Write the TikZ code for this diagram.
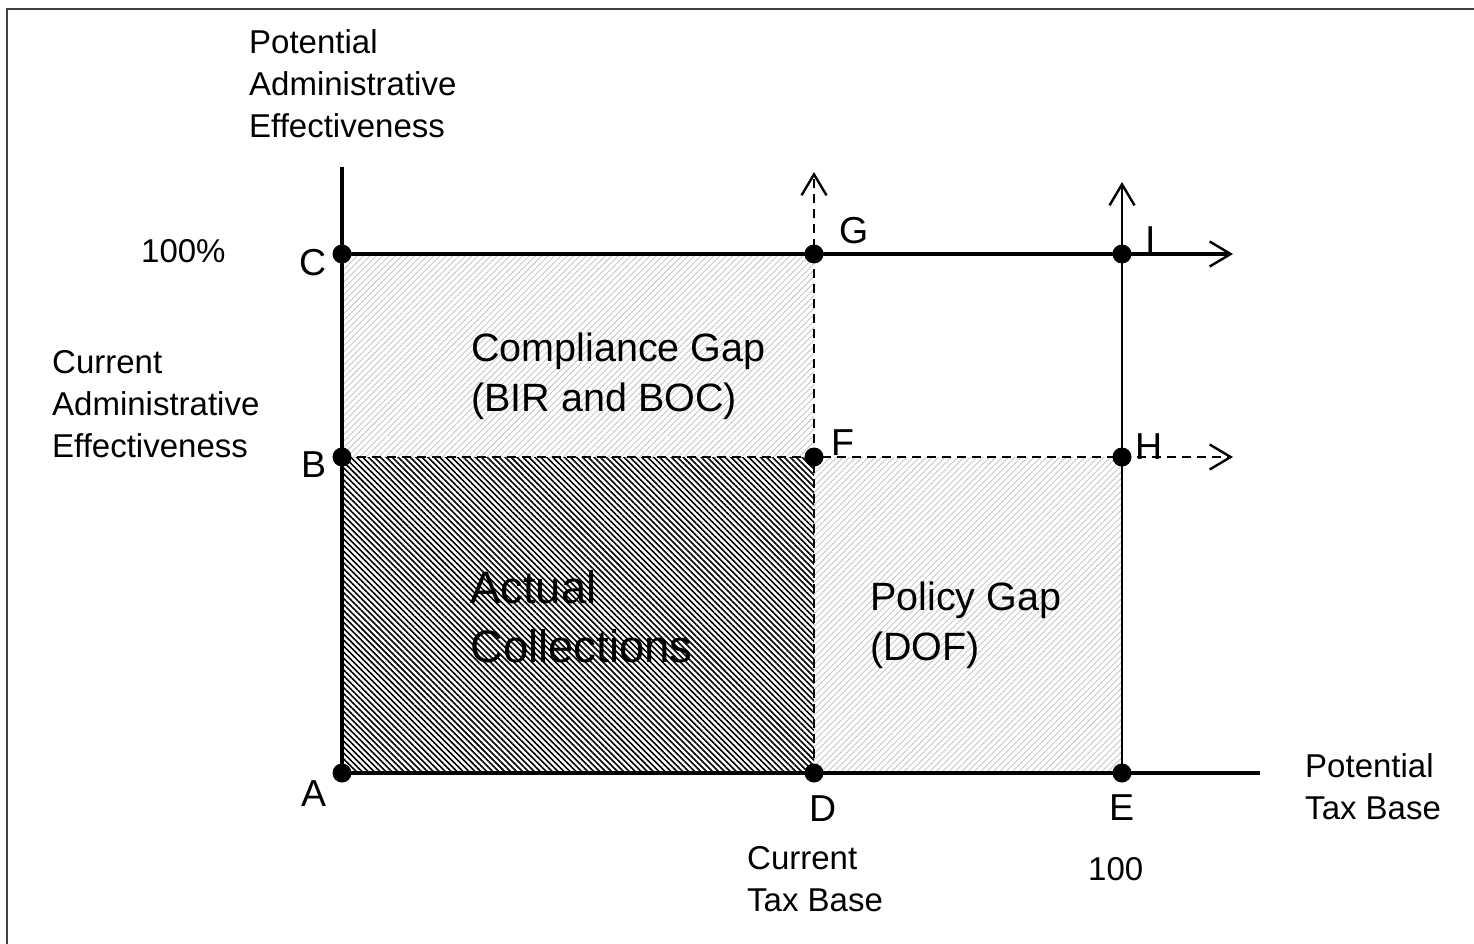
\documentclass[tikz,border=0pt]{standalone}
\usepackage{fontspec}
\setmainfont{Liberation Sans}
\usepackage{tikz}
\usetikzlibrary{positioning, calc, arrows.meta, patterns.meta}

\tikzset{
  axisline/.style = {line width=4.5pt},
  gridline/.style = {line width=3.5pt},
  thinline/.style = {line width=2.6pt},
  dashline/.style = {line width=2.4pt, dash pattern=on 9pt off 6pt},
  openhead/.style = {-{Straight Barb[length=21pt, width=25pt, line width=2.4pt]}},
  axistext/.style = {anchor=north west, inner sep=0pt, align=left, font=\fontsize{33}{42}\selectfont},
  pointname/.style = {anchor=base west, inner sep=0pt, font=\fontsize{37.5}{42}\selectfont},
  gaptext/.style = {anchor=north west, inner sep=0pt, align=left, font=\fontsize{39.5}{50}\selectfont},
  lighthatch/.style = {pattern={Lines[angle=45, distance=4.5pt, line width=0.9pt]}, pattern color=black!22},
  darkhatch/.style = {pattern={Lines[angle=-45, distance=4.2pt, line width=1.6pt]}, pattern color=black}
}

\begin{document}
\begin{tikzpicture}[x=1pt, y=-1pt]
  \useasboundingbox (0,0) rectangle (1474,944);
  % frame
  \draw[line width=2pt, black!75] (7,944) -- (7,9) -- (1474,9);

  % points
  \coordinate (A) at (342,773);
  \coordinate (B) at (342,457);
  \coordinate (C) at (342,254);
  \coordinate (D) at (814,773);
  \coordinate (F) at (814,457);
  \coordinate (G) at (814,254);
  \coordinate (E) at (1122,773);
  \coordinate (H) at (1122,457);
  \coordinate (I) at (1122,254);
  \coordinate (yend) at (342,167);
  \coordinate (xend) at (1260,773);
  \coordinate (Gtip) at (814,172);
  \coordinate (Itip) at (1122,182);
  \coordinate (Ctip) at (1233,254);
  \coordinate (Htip) at (1233,457);

  % shaded areas
  \fill[lighthatch] (B) rectangle (G);
  \fill[lighthatch] (D) rectangle (H);
  \fill[darkhatch] (A) rectangle (F);

  % lines
  \draw[dashline, openhead] (D) -- (Gtip);
  \draw[dashline, openhead] (B) -- (Htip);
  \draw[thinline, openhead] (E) -- (Itip);
  \draw[gridline, openhead] (C) -- (Ctip);
  \draw[axisline] (yend) -- (A) -- (xend);

  \foreach \p in {A,B,C,D,E,F,G,H,I}
    \fill (\p) circle (9.5pt);

  % axis texts
  \node[axistext] (potadm) at (249,29) {Potential\\Administrative\\Effectiveness};
  \node[axistext] (curadm) at (52,350) {Current\\Administrative\\Effectiveness};
  \node[anchor=base west, inner sep=0pt, font=\fontsize{33}{42}\selectfont] (full) at (141,262) {100\%};
  \node[axistext] (curbase) at (747,846) {Current\\Tax Base};
  \node[anchor=base west, inner sep=0pt, font=\fontsize{33}{42}\selectfont] (hundred) at (1088,880) {100};
  \node[axistext] (potbase) at (1305,753) {Potential\\Tax Base};

  % point names
  \node[pointname] (labA) at (301,806) {A};
  \node[pointname] (labB) at (301,477) {B};
  \node[pointname] (labC) at (299,275) {C};
  \node[pointname] (labD) at (809,821) {D};
  \node[pointname] (labE) at (1109,820) {E};
  \node[pointname] (labF) at (831,455) {F};
  \node[pointname] (labG) at (839,243) {G};
  \node[pointname] (labH) at (1135,459) {H};
  \node[pointname] (labI) at (1145,252) {I};

  % areas
  \node[gaptext] (compgap) at (471,333) {Compliance Gap\\(BIR and BOC)};
  \node[gaptext] (polgap) at (870,582) {Policy Gap\\(DOF)};
  \node[anchor=north west, inner sep=0pt, align=left, font=\fontsize{45.5}{59}\selectfont] (actual) at (470,570) {Actual\\Collections};
\end{tikzpicture}
\end{document}
